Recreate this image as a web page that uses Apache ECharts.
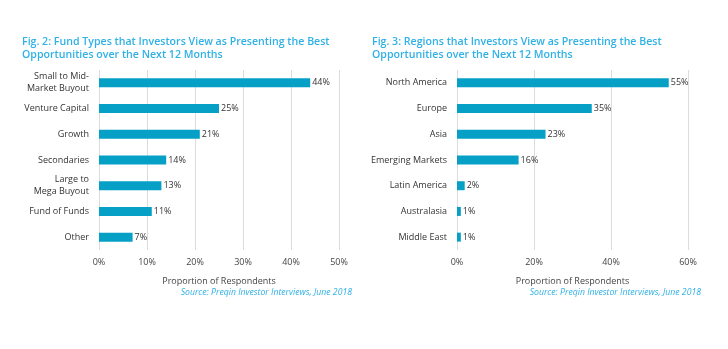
<!DOCTYPE html>
<html><head><meta charset="utf-8">
<script src="https://cdn.jsdelivr.net/npm/echarts@6/dist/echarts.min.js"></script>
<style>html,body{margin:0;padding:0;background:#fff}#c{width:728px;height:349px}</style>
</head><body><div id="c"></div>
<script>
const fundCategories = ['Small to Mid-\nMarket Buyout', 'Venture Capital', 'Growth', 'Secondaries', 'Large to\nMega Buyout', 'Fund of Funds', 'Other'];
const fundValues = [44, 25, 21, 14, 13, 11, 7];
const regionCategories = ['North America', 'Europe', 'Asia', 'Emerging Markets', 'Latin America', 'Australasia', 'Middle East'];
const regionValues = [55, 35, 23, 16, 2, 1, 1];
const fundTicks = { min: 0, max: 50, interval: 10 };
const regionTicks = { min: 0, max: 60, interval: 20 };
const title1 = 'Fig. 2: Fund Types that Investors View as Presenting the Best\nOpportunities over the Next 12 Months';
const title2 = 'Fig. 3: Regions that Investors View as Presenting the Best\nOpportunities over the Next 12 Months';
const axisTitle = 'Proportion of Respondents';
const sourceText = 'Source: Preqin Investor Interviews, June 2018';

const FONT = '"Open Sans", sans-serif';
const BLUE = '#06a0c6';
const TITLE = '#2fb1e6';
const chart = echarts.init(document.getElementById('c'), null, { renderer: 'canvas' });

function xAx(idx, t) {
  return {
    type: 'value', gridIndex: idx, min: t.min, max: t.max, interval: t.interval,
    name: axisTitle, nameLocation: 'middle', nameGap: 27,
    nameTextStyle: { fontFamily: FONT, fontSize: 9, color: '#444' },
    axisLine: { show: false }, axisTick: { show: false },
    axisLabel: { formatter: '{value}%', fontFamily: FONT, fontSize: 9, color: '#444', margin: 8 },
    splitLine: { show: true, lineStyle: { color: '#dcdcdc', width: 1 } }
  };
}
function yAx(idx, cats) {
  return {
    type: 'category', gridIndex: idx, data: cats, inverse: true,
    axisLine: { show: false }, axisTick: { show: false },
    axisLabel: { fontFamily: FONT, fontSize: 9, color: '#333', margin: 10, lineHeight: 12 }
  };
}
function ser(idx, vals) {
  return {
    type: 'bar', xAxisIndex: idx, yAxisIndex: idx, data: vals, barWidth: 9,
    itemStyle: { color: BLUE },
    label: { show: true, position: 'right', distance: 2, formatter: '{c}%', fontFamily: FONT, fontSize: 9, color: '#333' },
    silent: true, animation: false
  };
}

chart.setOption({
  animation: false,
  title: [
    { text: title1, left: 22, top: 35, padding: 0, textStyle: { fontFamily: FONT, fontSize: 10.6, fontWeight: 600, color: TITLE, lineHeight: 13 } },
    { text: title2, left: 372, top: 35, padding: 0, textStyle: { fontFamily: FONT, fontSize: 10.6, fontWeight: 600, color: TITLE, lineHeight: 13 } }
  ],
  grid: [
    { left: 99, width: 240, top: 70, height: 180, containLabel: false },
    { left: 457, width: 231, top: 70, height: 180, containLabel: false }
  ],
  xAxis: [xAx(0, fundTicks), xAx(1, regionTicks)],
  yAxis: [yAx(0, fundCategories), yAx(1, regionCategories)],
  series: [ser(0, fundValues), ser(1, regionValues)],
  graphic: [
    { type: 'text', right: 728 - 352, top: 288, style: { text: sourceText, font: 'italic 8.7px "Open Sans", sans-serif', fill: TITLE } },
    { type: 'text', right: 728 - 701, top: 288, style: { text: sourceText, font: 'italic 8.7px "Open Sans", sans-serif', fill: TITLE } }
  ]
});
</script></body></html>
